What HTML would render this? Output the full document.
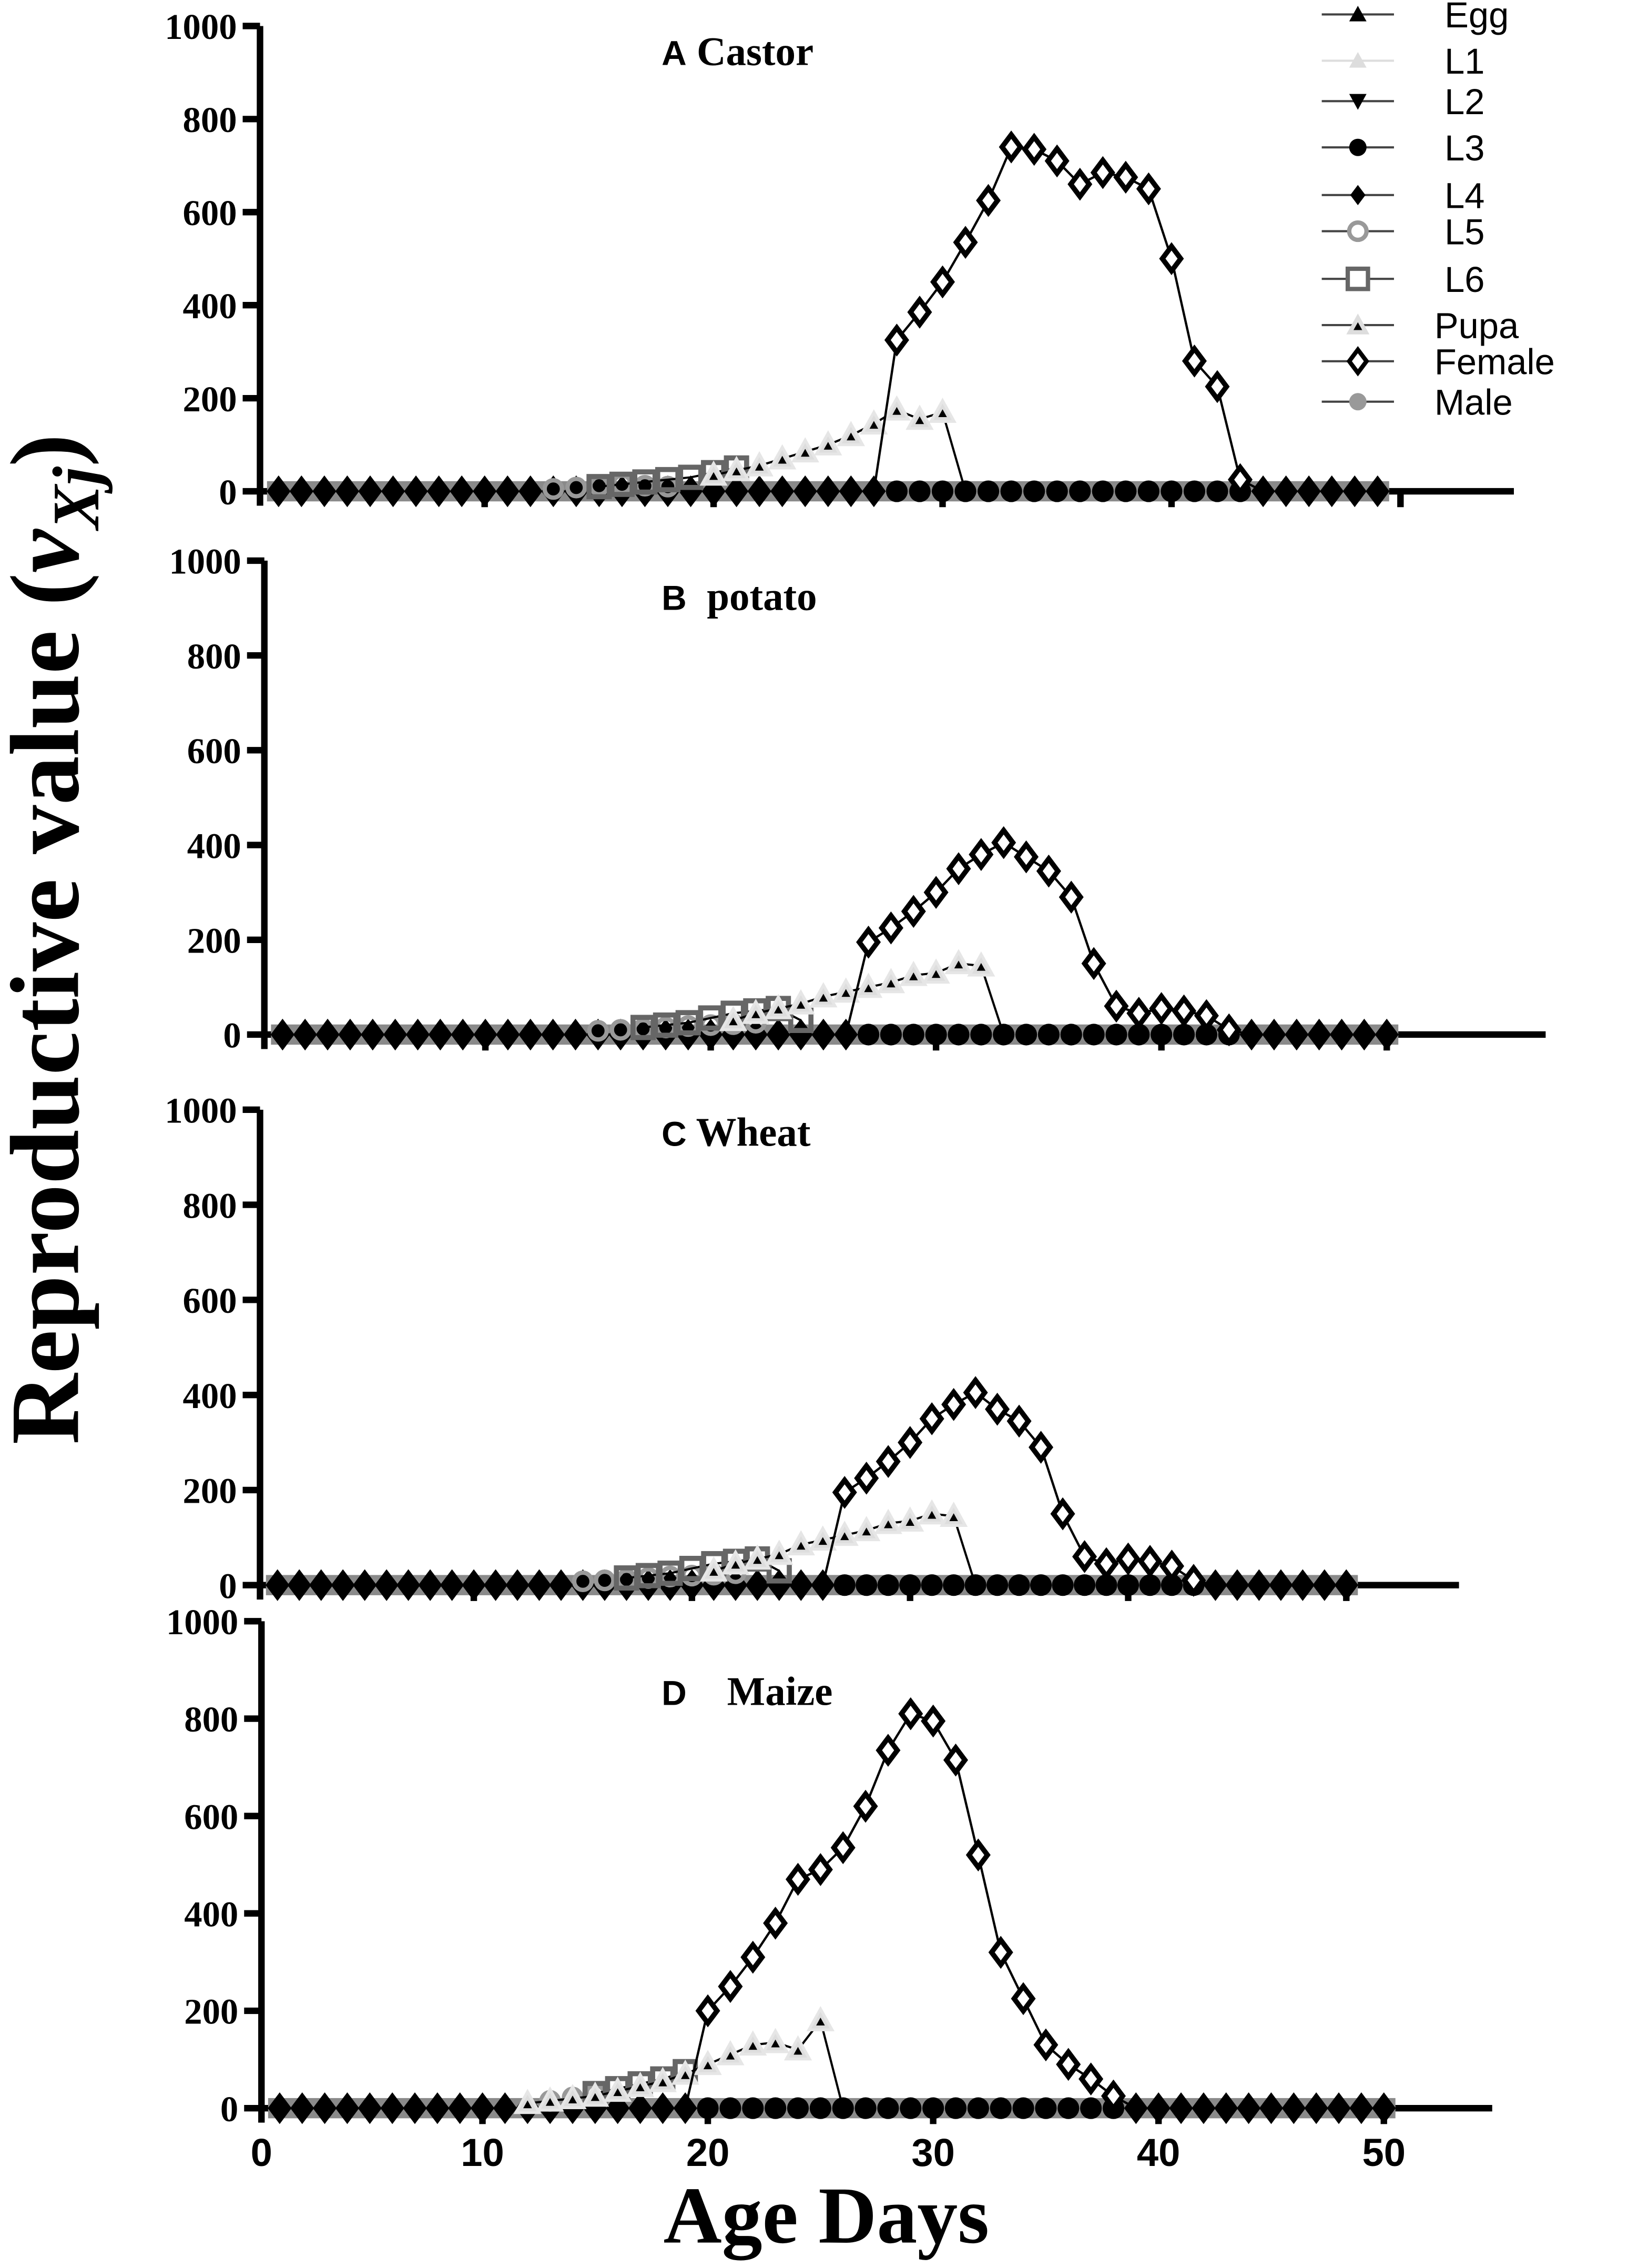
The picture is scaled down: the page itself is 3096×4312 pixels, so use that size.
<!DOCTYPE html>
<html><head><meta charset="utf-8"><style>
html,body{margin:0;padding:0;background:#fff;}
svg{display:block;}
.tk{font-family:"Liberation Serif",serif;font-weight:bold;font-size:25px;}
.xt{font-family:"Liberation Sans",sans-serif;font-weight:bold;font-size:27px;}
.lg{font-family:"Liberation Sans",sans-serif;font-size:25px;}
</style></head><body>
<svg id="chart" width="3096" height="4312" viewBox="0 0 1127 1569.6" preserveAspectRatio="none" xmlns="http://www.w3.org/2000/svg">
<text x="0" y="0" transform="translate(54,650) rotate(-90)" text-anchor="middle" font-family="Liberation Serif,serif" font-weight="bold" font-size="68">Reproductive value (<tspan font-style="italic">v</tspan><tspan font-style="italic" font-size="46" dy="14">Xj</tspan><tspan dy="-14">)</tspan></text>
<text x="572" y="1552" text-anchor="middle" font-family="Liberation Serif,serif" font-weight="bold" font-size="56">Age Days</text>
<g id="legend"></g>
</svg>
<script>
// ---- data ----
const days = Array.from({length:50},(_,i)=>i+1);
const yTicks = [0,200,400,600,800,1000];
const xTicks = [0,10,20,30,40,50];
const legendNames = ["Egg","L1","L2","L3","L4","L5","L6","Pupa","Female","Male"];

const castorFemale = {28:325,29:385,30:450,31:535,32:625,33:740,34:735,35:710,36:660,37:685,38:675,39:650,40:500,41:280,42:225,43:25};
const castorPupa = {20:35,21:45,22:55,23:70,24:85,25:100,26:120,27:145,28:175,29:155,30:170};
const castorL6 = {15:10,16:15,17:20,18:25,19:30,20:40,21:50};
const castorL5 = {13:5,14:8,15:12,16:15,17:12,18:10};

const potatoFemale = {27:195,28:225,29:260,30:300,31:350,32:380,33:405,34:375,35:345,36:290,37:150,38:60,39:45,40:55,41:50,42:40,43:10};
const potatoPupa = {21:30,22:45,23:55,24:65,25:80,26:90,27:100,28:110,29:125,30:130,31:150,32:145};
const potatoL6 = {17:15,18:20,19:25,20:35,21:45,22:50,23:55,24:30};
const potatoL5 = {15:8,16:10,17:12,18:15,19:18,20:20,21:22,22:25};

const wheatFemale = {27:195,28:225,29:260,30:300,31:350,32:380,33:405,34:370,35:345,36:290,37:150,38:60,39:45,40:55,41:50,42:40,43:10};
const wheatPupa = {21:30,22:45,23:55,24:65,25:85,26:95,27:105,28:115,29:130,30:135,31:150,32:145};
const wheatL6 = {17:15,18:20,19:25,20:35,21:45,22:50,23:55,24:30};
const wheatL5 = {15:8,16:10,17:12,18:15,19:18,20:20,21:22,22:25};

const maizeFemale = {20:200,21:250,22:310,23:380,24:470,25:490,26:535,27:620,28:735,29:810,30:795,31:715,32:520,33:320,34:225,35:130,36:90,37:60,38:25};
const maizePupa = {12:10,13:15,14:20,15:25,16:35,17:45,18:55,19:70,20:90,21:110,22:130,23:135,24:120,25:180};
const maizeL6 = {15:30,16:40,17:50,18:60,19:75};
const maizeL5 = {13:15,14:22,15:30};

const panels = [
 {key:"a",letter:"A",name:"Castor",gap:" ",top:18,bot:340,x0:177,dx:15.85,axisEnd:1048,titleX:458,titleY:45,lastDay:49,fem:castorFemale,pupa:castorPupa,l6:castorL6,l5:castorL5,showX:false},
 {key:"b",letter:"B",name:"potato",gap:"  ",top:388,bot:716,x0:180,dx:15.6,axisEnd:1070,titleX:458,titleY:422,lastDay:50,fem:potatoFemale,pupa:potatoPupa,l6:potatoL6,l5:potatoL5,showX:false},
 {key:"c",letter:"C",name:"Wheat",gap:" ",top:768,bot:1097,x0:177,dx:15.1,axisEnd:1010,titleX:458,titleY:793,lastDay:50,fem:wheatFemale,pupa:wheatPupa,l6:wheatL6,l5:wheatL5,showX:false},
 {key:"d",letter:"D",name:"Maize",gap:"    ",top:1122,bot:1459,x0:178,dx:15.6,axisEnd:1033,titleX:458,titleY:1180,lastDay:50,fem:maizeFemale,pupa:maizePupa,l6:maizeL6,l5:maizeL5,showX:true}
];

const NS="http://www.w3.org/2000/svg";
const svg=document.getElementById('chart');
function mk(tag,attrs,parent){const e=document.createElementNS(NS,tag);for(const k in attrs)e.setAttribute(k,attrs[k]);(parent||svg).appendChild(e);return e;}
function diamond(cx,cy,r){return `${cx},${cy-r} ${cx+r*0.75},${cy} ${cx},${cy+r} ${cx-r*0.75},${cy}`;}
function tri(cx,cy,r){return `${cx},${cy-r} ${cx+r},${cy+r*0.8} ${cx-r},${cy+r*0.8}`;}
function seriesPts(obj,xs,ys){return Object.keys(obj).map(Number).sort((a,b)=>a-b).map(d=>[xs(d),ys(obj[d]),d]);}

panels.forEach(p=>{
  const g=mk('g',{});
  
  
  const xs=d=>p.x0+d*p.dx;
  const ys=v=>p.bot-(v/1000)*(p.bot-p.top);
  const ya=mk('line',{x1:p.x0+3,y1:p.top,x2:p.x0+3,y2:p.bot+10,stroke:'#000','stroke-width':4.5},g);
  
  
  const xa=mk('line',{x1:p.x0+3,y1:p.bot,x2:p.axisEnd,y2:p.bot,stroke:'#000','stroke-width':4.5},g);
  
  
  yTicks.forEach(t=>{
    mk('line',{x1:p.x0-9,x2:p.x0+3,y1:ys(t),y2:ys(t),stroke:'#000','stroke-width':4.5},g);
    const tx=mk('text',{x:p.x0-13,y:ys(t)+9,'text-anchor':'end',class:'tk'},g);
    tx.textContent=t;
    
    
  });
  xTicks.forEach(t=>{
    if(t===0)return;
    mk('line',{x1:xs(t),x2:xs(t),y1:p.bot,y2:p.bot+11,stroke:'#000','stroke-width':4.5},g);
    if(p.showX){
      const tx=mk('text',{x:xs(t),y:p.bot+40,'text-anchor':'middle',class:'xt'},g);
      tx.textContent=t;
      
      
    }
  });
  if(p.showX){const tx=mk('text',{x:p.x0+3,y:p.bot+40,'text-anchor':'middle',class:'xt'},g);tx.textContent='0';
    
    }
  const tt=mk('text',{x:p.titleX,y:p.titleY,'font-size':28,'font-weight':'bold'},g);
  
  
  tt.innerHTML=`<tspan font-family="Liberation Sans,sans-serif" font-size="24">${p.letter}</tspan><tspan font-family="Liberation Serif,serif" xml:space="preserve">${p.gap}${p.name}</tspan>`;
  const band=mk('rect',{x:xs(1)-8,y:p.bot-7,width:xs(p.lastDay)-xs(1)+16,height:14,fill:'#8a8a8a'},g);
  
  
  const femDays=Object.keys(p.fem).map(Number);
  const fStart=Math.min(...femDays), fEnd=Math.max(...femDays);
  // baseline zero markers
  for(let d=1; d<=p.lastDay; d++){
    if(d<fStart || d>fEnd){
      const dm=mk('polygon',{points:diamond(xs(d),p.bot,11),fill:'#000'},g);
      
    } else {
      const c=mk('circle',{cx:xs(d),cy:p.bot,r:7.5,fill:'#000'},g);
      
    }
  }
  const l5=seriesPts(p.l5,xs,ys);
  l5.forEach(([x,y])=>{const c=mk('circle',{cx:x,cy:y,r:6,fill:'none',stroke:'#999','stroke-width':3},g);
    });
  const l6=seriesPts(p.l6,xs,ys);
  mk('polyline',{points:l6.map(a=>a[0]+','+a[1]).join(' '),fill:'none',stroke:'#000','stroke-width':1.5},g);
  l6.forEach(([x,y])=>{const r=mk('rect',{x:x-7,y:y-7,width:14,height:14,fill:'none',stroke:'#666','stroke-width':3.5},g);
    });
  const pu=seriesPts(p.pupa,xs,ys);
  const lastP=pu[pu.length-1];
  const pl=mk('polyline',{points:pu.map(a=>a[0]+','+a[1]).join(' ')+` ${xs(lastP[2]+1)},${ys(0)}`,fill:'none',stroke:'#000','stroke-width':1.5},g);
  
  
  pu.forEach(([x,y])=>{
    const t=mk('polygon',{points:tri(x,y,8),fill:'#ddd',stroke:'#e6e6e6','stroke-width':2},g);
    
    mk('polygon',{points:tri(x,y+1,3),fill:'#000'},g);
  });
  const fe=seriesPts(p.fem,xs,ys);
  const lastF=fe[fe.length-1];
  const fl=mk('polyline',{points:`${xs(fe[0][2]-1)},${ys(0)} `+fe.map(a=>a[0]+','+a[1]).join(' ')+` ${xs(lastF[2]+1)},${ys(0)}`,fill:'none',stroke:'#000','stroke-width':1.6},g);
  
  
  fe.forEach(([x,y])=>{
    const dm=mk('polygon',{points:diamond(x,y,8.5),fill:'#fff',stroke:'#000','stroke-width':3.5},g);
    
  });
});

const lg=document.getElementById('legend');
const legY=[10,42,70,102,135,160,193,225,250,278];
legendNames.forEach((n,i)=>{
  const y=legY[i];
  const eg=mk('g',{},lg);
  
  
  mk('line',{x1:915,x2:965,y1:y,y2:y,stroke:i===1?'#ddd':'#444','stroke-width':1.5},eg);
  const cx=940;
  if(i===0) mk('polygon',{points:tri(cx,y,6),fill:'#000'},eg);
  if(i===1) mk('polygon',{points:tri(cx,y,6),fill:'#ddd'},eg);
  if(i===2) mk('polygon',{points:`${cx-6},${y-5} ${cx+6},${y-5} ${cx},${y+6}`,fill:'#000'},eg);
  if(i===3) mk('circle',{cx:cx,cy:y,r:6,fill:'#000'},eg);
  if(i===4) mk('polygon',{points:diamond(cx,y,7),fill:'#000'},eg);
  if(i===5) mk('circle',{cx:cx,cy:y,r:6,fill:'#fff',stroke:'#999','stroke-width':3},eg);
  if(i===6) mk('rect',{x:cx-7,y:y-7,width:14,height:14,fill:'#fff',stroke:'#666','stroke-width':3},eg);
  if(i===7){mk('polygon',{points:tri(cx,y,8),fill:'#ddd'},eg);mk('polygon',{points:tri(cx,y+1,3),fill:'#000'},eg);}
  if(i===8) mk('polygon',{points:diamond(cx,y,8),fill:'#fff',stroke:'#000','stroke-width':3},eg);
  if(i===9) mk('circle',{cx:cx,cy:y,r:6,fill:'#999'},eg);
  const t=mk('text',{x:i===7||i===8||i===9?993:1000,y:y+9,class:'lg'},eg);
  t.textContent=n;
});
</script>
</body></html>
